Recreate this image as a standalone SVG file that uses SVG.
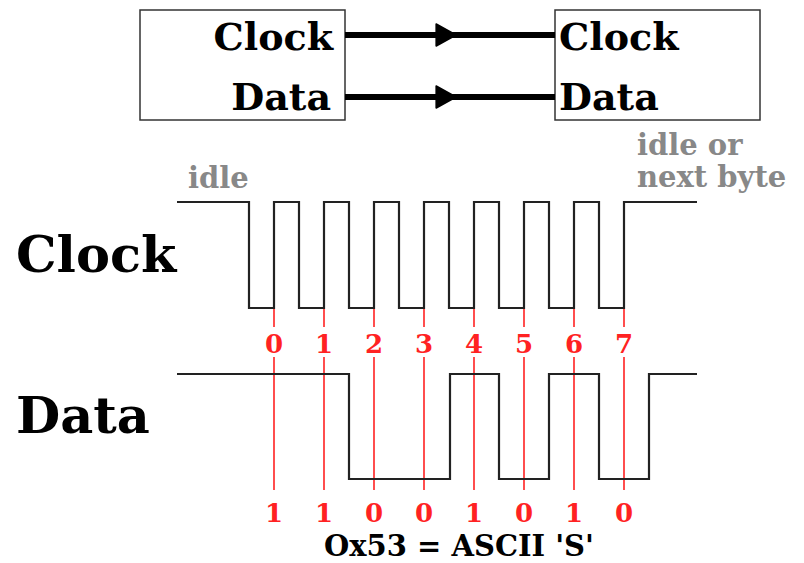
<svg xmlns="http://www.w3.org/2000/svg" width="804" height="563" viewBox="0 0 804 563">
<style>
.box{fill:#fff;stroke:#333;stroke-width:1.5}
.lbl{font-family:"DejaVu Serif","Liberation Serif",serif;font-weight:bold;fill:#000}
.gray{font-family:"DejaVu Serif","Liberation Serif",serif;font-weight:bold;fill:#888;font-size:29px}
.red{font-family:"DejaVu Serif","Liberation Serif",serif;font-weight:bold;fill:#f22;font-size:26px;text-anchor:middle}
.wave{fill:none;stroke:#222;stroke-width:2.2}
.tick{stroke:#f22;stroke-width:1.6}
.wire{fill:none;stroke:#000;stroke-width:6;marker-mid:url(#ah)}
</style>
<defs>
<marker id="ah" markerUnits="userSpaceOnUse" markerWidth="24" markerHeight="26" viewBox="-21 -12 23 24" refX="0" refY="0" orient="auto">
<path d="M-19,-10.5 L0,0 L-19,10.5 Z" fill="#000" stroke="#000" stroke-width="1.5" stroke-linejoin="round"/>
</marker>
</defs>
<rect width="804" height="563" fill="#fff"/>
<g id="sender">
<rect class="box" x="140" y="10" width="205" height="110"/>
<text class="lbl" x="333" y="50" font-size="38" text-anchor="end">Clock</text>
<text class="lbl" x="331" y="110" font-size="38" text-anchor="end">Data</text>
</g>
<g id="receiver">
<rect class="box" x="555" y="10" width="205" height="110"/>
<text class="lbl" x="559" y="50" font-size="38">Clock</text>
<text class="lbl" x="559" y="110" font-size="38">Data</text>
</g>
<g id="connectors">
<path class="wire" d="M345,35 L456,35 L555,35"/>
<path class="wire" d="M345,97 L456,97 L555,97"/>
</g>
<g id="clock-signal">
<text class="lbl" x="16" y="272" font-size="51">Clock</text>
<text class="gray" x="188" y="188">idle</text>
<text class="gray" x="637" y="155">idle or</text>
<text class="gray" x="637" y="187">next byte</text>
<path class="wave" d="M177,202 H249 V308 H274 V202 H299 V308 H324 V202 H349 V308 H374 V202 H399 V308 H424 V202 H449 V308 H474 V202 H499 V308 H524 V202 H549 V308 H574 V202 H599 V308 H624 V202 H697"/>
</g>
<g id="sample-points">
<path class="tick" d="M274,309 V327 M324,309 V327 M374,309 V327 M424,309 V327 M474,309 V327 M524,309 V327 M574,309 V327 M624,309 V327"/>
<path class="tick" d="M274,357 V490 M324,357 V490 M374,357 V490 M424,357 V490 M474,357 V490 M524,357 V490 M574,357 V490 M624,357 V490"/>
<text class="red" x="274" y="353">0</text>
<text class="red" x="324" y="353">1</text>
<text class="red" x="374" y="353">2</text>
<text class="red" x="424" y="353">3</text>
<text class="red" x="474" y="353">4</text>
<text class="red" x="524" y="353">5</text>
<text class="red" x="574" y="353">6</text>
<text class="red" x="624" y="353">7</text>
</g>
<g id="data-signal">
<text class="lbl" x="16" y="433" font-size="51">Data</text>
<path class="wave" d="M177,374 H349 V479 H450 V374 H499 V479 H549 V374 H599 V479 H649 V374 H697"/>
<text class="red" x="274" y="522">1</text>
<text class="red" x="324" y="522">1</text>
<text class="red" x="374" y="522">0</text>
<text class="red" x="424" y="522">0</text>
<text class="red" x="474" y="522">1</text>
<text class="red" x="524" y="522">0</text>
<text class="red" x="574" y="522">1</text>
<text class="red" x="624" y="522">0</text>
<text class="lbl" x="459" y="556" font-size="29" text-anchor="middle">Ox53 = ASCII 'S'</text>
</g>
</svg>
